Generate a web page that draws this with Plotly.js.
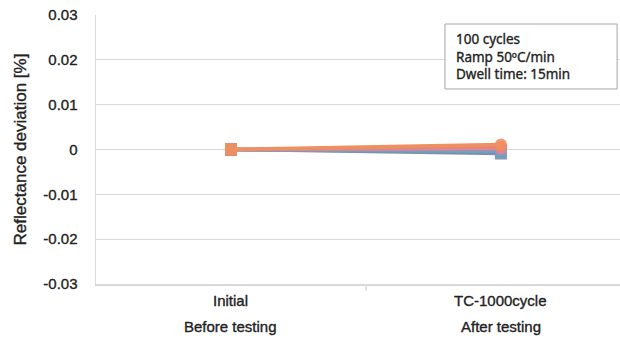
<!DOCTYPE html>
<html>
<head>
<meta charset="utf-8">
<script src="https://cdn.plot.ly/plotly-3.0.1.min.js"></script>
<style>
html,body{margin:0;padding:0;background:#fff;}
#chart{width:620px;height:338px;}
#chart svg text{stroke:#222;stroke-width:0.35px;}
</style>
</head>
<body>
<div id="chart"></div>
<script>
// Data
const categoryPositions = [0, 1];
const categoryLine1 = ["Initial", "TC-1000cycle"];
const categoryLine2 = ["Before testing", "After testing"];
const seriesNames = ["Sample A", "Sample B", "Sample C", "Sample D", "Sample E", "Sample F", "Sample G"];
const initialValues = [0, 0, 0, 0, 0, 0, 0];
const afterValues = [-0.0009, -0.0005, -0.0003, -0.0001, 0.0003, 0.0006, 0.0011];
const seriesColors = ["#7a8fa8", "#5fa7b8", "#6b9fd3", "#9a90b5", "#d98c98", "#e5857a", "#ee9060"];
const seriesSymbols = [["square","square"],["square","square"],["square","square"],["square","square"],["square","circle"],["square","circle"],["square","circle"]];
const yTicks = [0.03, 0.02, 0.01, 0, -0.01, -0.02, -0.03];
const yTickText = ["0.03", "0.02", "0.01", "0", "-0.01", "-0.02", "-0.03"];
const noteLines = ["100 cycles", "Ramp 50ºC/min", "Dwell time: 15min"];

const axisFont = {family: "Liberation Sans, Arial, sans-serif", size: 15, color: "#222"};

const traces = seriesNames.map((n, i) => ({
  type: "scatter",
  mode: "lines+markers",
  name: n,
  x: categoryPositions,
  y: [initialValues[i], afterValues[i]],
  line: {color: seriesColors[i], width: 3.5},
  marker: {color: seriesColors[i], size: 12, symbol: seriesSymbols[i], opacity: 0.9},
  showlegend: false,
  hoverinfo: "skip"
}));

const annotations = [];
categoryPositions.forEach((x, i) => {
  annotations.push({x: x, xref: "x", y: 0, yref: "paper", yshift: -16, text: categoryLine1[i], showarrow: false,
    font: axisFont, xanchor: "center", yanchor: "middle"});
});
categoryPositions.forEach((x, i) => {
  annotations.push({x: x, xref: "x", y: 0, yref: "paper", yshift: -42, text: categoryLine2[i], showarrow: false,
    font: axisFont, xanchor: "center", yanchor: "middle"});
});
annotations.push({
  x: 0.6835, xref: "paper", y: 0.952, yref: "paper", xanchor: "left", yanchor: "top", align: "left",
  text: noteLines.join("<br>"), showarrow: false,
  font: {family: "Noto Sans, Open Sans, sans-serif", size: 13.5, color: "#222"}
});

const layout = {
  width: 620, height: 338,
  margin: {l: 96, r: 0, t: 15, b: 54},
  paper_bgcolor: "#fff", plot_bgcolor: "#fff",
  xaxis: {
    range: [-0.5, 1.441], showgrid: false, zeroline: false, showticklabels: false,
    showline: true, linecolor: "#d9d9d9", linewidth: 1.5, fixedrange: true
  },
  yaxis: {
    range: [-0.03, 0.03], tickvals: yTicks, ticktext: yTickText,
    showgrid: true, gridcolor: "#d9d9d9", gridwidth: 1.2,
    zeroline: true, zerolinecolor: "#d9d9d9", zerolinewidth: 1.2,
    showline: true, linecolor: "#d9d9d9", linewidth: 1.5,
    ticks: "", ticklabelstandoff: 14,
    tickfont: axisFont,
    title: {text: "Reflectance deviation [%]", standoff: 12,
      font: {family: "Liberation Sans, Arial, sans-serif", size: 17, color: "#222"}}
  },
  shapes: [
    {type: "line", xref: "x", yref: "paper", x0: 0.5, x1: 0.5, y0: 0, y1: -0.025, line: {color: "#d9d9d9", width: 1.5}},
    {type: "rect", xref: "paper", yref: "paper", x0: 0.666, x1: 0.9945, y0: 0.725, y1: 0.9665,
      fillcolor: "#fff", line: {color: "#a6a6a6", width: 1}, layer: "above"}
  ],
  annotations: annotations
};

Plotly.newPlot("chart", traces, layout, {displayModeBar: false, staticPlot: true});
</script>
</body>
</html>
